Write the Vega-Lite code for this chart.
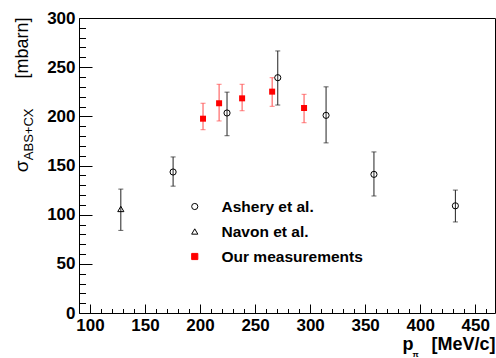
{
  "$schema": "https://vega.github.io/schema/vega-lite/v6.json",
  "width": 416,
  "height": 295,
  "autosize": {"type": "none"},
  "padding": {"left": 79, "top": 18, "right": 1, "bottom": 45},
  "background": "white",
  "config": {
    "view": {"stroke": "black", "strokeWidth": 1},
    "axis": {"grid": false, "domain": false, "tickColor": "black", "labelColor": "black", "titleColor": "black", "labelFont": "Liberation Sans", "titleFont": "Liberation Sans", "labelFlush": false, "labelOverlap": false, "tickWidth": 1}
  },
  "data": {"values": [
    {"series": "Ashery et al.", "p": 175.5, "sigma": 143.4, "lo": 129, "hi": 158.7},
    {"series": "Ashery et al.", "p": 224.5, "sigma": 203.4, "lo": 180.3, "hi": 224.6},
    {"series": "Ashery et al.", "p": 270.6, "sigma": 239.3, "lo": 211.5, "hi": 266.5},
    {"series": "Ashery et al.", "p": 314.5, "sigma": 201, "lo": 173, "hi": 230},
    {"series": "Ashery et al.", "p": 358, "sigma": 141, "lo": 119, "hi": 163.8},
    {"series": "Ashery et al.", "p": 432, "sigma": 109, "lo": 92.6, "hi": 125},
    {"series": "Navon et al.", "p": 128, "sigma": 105.8, "lo": 84, "hi": 126},
    {"series": "Our measurements", "p": 202.7, "sigma": 197.6, "lo": 186.4, "hi": 213.3},
    {"series": "Our measurements", "p": 217.3, "sigma": 213.3, "lo": 195.3, "hi": 232.6},
    {"series": "Our measurements", "p": 238.2, "sigma": 218.3, "lo": 205.7, "hi": 232.6},
    {"series": "Our measurements", "p": 265.5, "sigma": 225.1, "lo": 210.2, "hi": 239.3},
    {"series": "Our measurements", "p": 294.5, "sigma": 208.5, "lo": 193.5, "hi": 222.4}
  ]},
  "resolve": {"axis": {"x": "independent", "y": "independent"}},
  "layer": [
    {
      "mark": {"type": "errorbar", "ticks": {"size": 5, "thickness": 1}, "rule": {"strokeWidth": 1}},
      "encoding": {
        "x": {"field": "p", "type": "quantitative", "scale": {"domain": [90, 468], "nice": false, "zero": false},
          "axis": {"orient": "bottom", "values": [100, 150, 200, 250, 300, 350, 400, 450], "tickSize": -9, "labelPadding": 13, "labelFontSize": 17, "labelFontWeight": "bold",
            "title": "[MeV/c]", "titleFontSize": 18, "titleFontWeight": "bold", "titleAlign": "right", "titleBaseline": "alphabetic", "titleX": 416, "titleY": 36}},
        "y": {"field": "lo", "type": "quantitative", "scale": {"domain": [0, 300], "nice": false, "zero": true},
          "axis": {"orient": "left", "values": [0, 50, 100, 150, 200, 250, 300], "tickSize": -13, "labelPadding": 17, "labelFontSize": 17, "labelFontWeight": "bold",
            "title": "[mbarn]", "titleFontSize": 18, "titleFontWeight": "normal", "titleAngle": 270, "titleAlign": "right", "titleBaseline": "alphabetic", "titleX": -52, "titleY": -1}},
        "y2": {"field": "hi"},
        "color": {"field": "series", "type": "nominal", "scale": {"domain": ["Our measurements", "Ashery et al.", "Navon et al."], "range": ["#ff4a4a", "#222222", "#222222"]}, "legend": null}
      }
    },
    {
      "transform": [{"filter": "datum.series !== 'Our measurements'"}],
      "mark": {"type": "point", "strokeWidth": 1, "opacity": 1, "size": 38},
      "encoding": {
        "x": {"field": "p", "type": "quantitative",
          "axis": {"orient": "bottom", "values": [100, 110, 120, 130, 140, 150, 160, 170, 180, 190, 200, 210, 220, 230, 240, 250, 260, 270, 280, 290, 300, 310, 320, 330, 340, 350, 360, 370, 380, 390, 400, 410, 420, 430, 440, 450, 460], "tickSize": -4.5, "labels": false,
            "title": "p", "titleFontSize": 18, "titleFontWeight": "bold", "titleAlign": "left", "titleBaseline": "alphabetic", "titleX": 323, "titleY": 36}},
        "y": {"field": "sigma", "type": "quantitative",
          "axis": {"orient": "left", "values": [0, 10, 20, 30, 40, 50, 60, 70, 80, 90, 100, 110, 120, 130, 140, 150, 160, 170, 180, 190, 200, 210, 220, 230, 240, 250, 260, 270, 280, 290, 300], "tickSize": -6.5, "labels": false,
            "title": "σ", "titleFontSize": 19, "titleFontWeight": "normal", "titleAngle": 270, "titleAlign": "right", "titleBaseline": "alphabetic", "titleX": -52, "titleY": 142}},
        "shape": {"field": "series", "type": "nominal", "scale": {"domain": ["Ashery et al.", "Navon et al.", "Our measurements"], "range": ["circle", "triangle-up", "square"]},
          "legend": {"title": null, "orient": "none", "legendX": 108, "legendY": 176, "padding": 0, "rowPadding": 0, "clipHeight": 25, "labelOffset": 19, "labelFont": "Liberation Sans", "labelFontSize": 15.5, "labelFontWeight": "bold", "labelColor": "black", "symbolSize": 38, "symbolStrokeWidth": 1}},
        "fill": {"field": "series", "type": "nominal", "scale": {"domain": ["Ashery et al.", "Navon et al.", "Our measurements"], "range": ["transparent", "transparent", "#ff0000"]},
          "legend": {"title": null, "orient": "none", "legendX": 108, "legendY": 176, "padding": 0, "rowPadding": 0, "clipHeight": 25, "labelOffset": 19, "labelFont": "Liberation Sans", "labelFontSize": 15.5, "labelFontWeight": "bold", "labelColor": "black", "symbolSize": 38, "symbolStrokeWidth": 1}},
        "stroke": {"field": "series", "type": "nominal", "scale": {"domain": ["Ashery et al.", "Navon et al.", "Our measurements"], "range": ["#000000", "#000000", "#ff0000"]},
          "legend": {"title": null, "orient": "none", "legendX": 108, "legendY": 176, "padding": 0, "rowPadding": 0, "clipHeight": 25, "labelOffset": 19, "labelFont": "Liberation Sans", "labelFontSize": 15.5, "labelFontWeight": "bold", "labelColor": "black", "symbolSize": 38, "symbolStrokeWidth": 1}}
      }
    },
    {
      "transform": [{"filter": "datum.series === 'Our measurements'"}],
      "mark": {"type": "point", "shape": "square", "filled": true, "color": "#ff0000", "strokeWidth": 1, "opacity": 1, "size": 36},
      "encoding": {
        "x": {"field": "p", "type": "quantitative",
          "axis": {"orient": "bottom", "ticks": false, "labels": false,
            "title": "π", "titleFontSize": 8, "titleFontWeight": "bold", "titleAlign": "left", "titleBaseline": "alphabetic", "titleX": 333, "titleY": 43}},
        "y": {"field": "sigma", "type": "quantitative",
          "axis": {"orient": "left", "ticks": false, "labels": false,
            "title": "ABS+CX", "titleFontSize": 13, "titleFontWeight": "normal", "titleAngle": 270, "titleAlign": "right", "titleBaseline": "alphabetic", "titleX": -47, "titleY": 90}}
      }
    }
  ]
}
